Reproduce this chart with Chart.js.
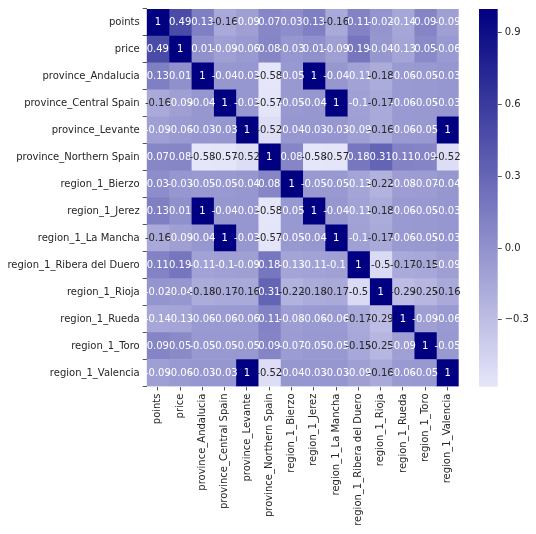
<!DOCTYPE html>
<html><head><meta charset="utf-8">
<script src="https://cdn.jsdelivr.net/npm/chart.js@4/dist/chart.umd.min.js"></script>
<style>
html,body{margin:0;padding:0;background:#fff;}
#main{position:absolute;left:0;top:0;}
#cbar{position:absolute;left:470px;top:0;}
</style></head><body>
<canvas id="main" width="536" height="534"></canvas>
<canvas id="cbar" width="66" height="534"></canvas>
<script>
const labels = ["points","price","province_Andalucia","province_Central Spain","province_Levante","province_Northern Spain","region_1_Bierzo","region_1_Jerez","region_1_La Mancha","region_1_Ribera del Duero","region_1_Rioja","region_1_Rueda","region_1_Toro","region_1_Valencia"];

const corrPoints    = [1, 0.49, 0.13, -0.16, -0.09, 0.07, 0.03, 0.13, -0.16, 0.11, -0.02, -0.14, 0.09, -0.09];
const corrPrice     = [0.49, 1, 0.01, -0.09, -0.06, 0.08, -0.03, 0.01, -0.09, 0.19, -0.04, -0.13, 0.05, -0.06];
const corrAndalucia = [0.13, 0.01, 1, -0.04, -0.03, -0.58, -0.05, 1, -0.04, -0.11, -0.18, -0.06, -0.05, -0.03];
const corrCentral   = [-0.16, -0.09, -0.04, 1, -0.03, -0.57, -0.05, -0.04, 1, -0.1, -0.17, -0.06, -0.05, -0.03];
const corrLevante   = [-0.09, -0.06, -0.03, -0.03, 1, -0.52, -0.04, -0.03, -0.03, -0.09, -0.16, -0.06, -0.05, 1];
const corrNorthern  = [0.07, 0.08, -0.58, -0.57, -0.52, 1, 0.08, -0.58, -0.57, 0.18, 0.31, 0.11, 0.09, -0.52];
const corrBierzo    = [0.03, -0.03, -0.05, -0.05, -0.04, 0.08, 1, -0.05, -0.05, -0.13, -0.22, -0.08, -0.07, -0.04];
const corrJerez     = [0.13, 0.01, 1, -0.04, -0.03, -0.58, -0.05, 1, -0.04, -0.11, -0.18, -0.06, -0.05, -0.03];
const corrLaMancha  = [-0.16, -0.09, -0.04, 1, -0.03, -0.57, -0.05, -0.04, 1, -0.1, -0.17, -0.06, -0.05, -0.03];
const corrRibera    = [0.11, 0.19, -0.11, -0.1, -0.09, 0.18, -0.13, -0.11, -0.1, 1, -0.5, -0.17, -0.15, -0.09];
const corrRioja     = [-0.02, -0.04, -0.18, -0.17, -0.16, 0.31, -0.22, -0.18, -0.17, -0.5, 1, -0.29, -0.25, -0.16];
const corrRueda     = [-0.14, -0.13, -0.06, -0.06, -0.06, 0.11, -0.08, -0.06, -0.06, -0.17, -0.29, 1, -0.09, -0.06];
const corrToro      = [0.09, 0.05, -0.05, -0.05, -0.05, 0.09, -0.07, -0.05, -0.05, -0.15, -0.25, -0.09, 1, -0.05];
const corrValencia  = [-0.09, -0.06, -0.03, -0.03, 1, -0.52, -0.04, -0.03, -0.03, -0.09, -0.16, -0.06, -0.05, 1];

const matrix = [corrPoints, corrPrice, corrAndalucia, corrCentral, corrLevante, corrNorthern, corrBierzo, corrJerez, corrLaMancha, corrRibera, corrRioja, corrRueda, corrToro, corrValencia];

const VMIN = -0.58, VMAX = 1;
const cbarTicks = [-0.3, 0.0, 0.3, 0.6, 0.9];

const FONT = {family: '"DejaVu Sans", sans-serif', size: 10};
const TXT = '#262626';

function rgbFor(v){
  const t = Math.max(0, Math.min(1, (v - VMIN) / (VMAX - VMIN)));
  const lo = [230, 230, 250], hi = [0, 0, 128];
  return lo.map((c, k) => Math.round(c + (hi[k] - c) * t));
}
function cellColor(v){ const c = rgbFor(v); return `rgb(${c[0]},${c[1]},${c[2]})`; }
function textColor(v){
  const c = rgbFor(v).map(x => { x /= 255; return x <= 0.03928 ? x / 12.92 : Math.pow((x + 0.055) / 1.055, 2.4); });
  const L = 0.2126 * c[0] + 0.7152 * c[1] + 0.0722 * c[2];
  return L > 0.408 ? TXT : '#ffffff';
}
function fmt(v){ return String(Number(v.toPrecision(2))); }

const datasets = labels.map((col, j) => ({
  label: col,
  data: labels.map(() => 1),
  backgroundColor: matrix.map(row => cellColor(row[j])),
  borderWidth: 0,
  barPercentage: 1,
  categoryPercentage: 1
}));

const annot = {
  id: 'annot',
  afterDatasetsDraw(chart){
    const ctx = chart.ctx, xs = chart.scales.x, ys = chart.scales.y;
    ctx.save();
    ctx.font = '10px "DejaVu Sans", sans-serif';
    ctx.textAlign = 'center';
    ctx.textBaseline = 'middle';
    matrix.forEach((row, i) => row.forEach((v, j) => {
      ctx.fillStyle = textColor(v);
      ctx.fillText(fmt(v), xs.getPixelForValue(j + 0.5), ys.getPixelForValue(i));
    }));
    ctx.restore();
  }
};

new Chart(document.getElementById('main'), {
  type: 'bar',
  data: {labels: labels, datasets: datasets},
  options: {
    responsive: false,
    animation: false,
    indexAxis: 'y',
    layout: {padding: {top: 6.7, right: 77.3, left: 0, bottom: 0}},
    plugins: {legend: {display: false}, tooltip: {enabled: false}},
    scales: {
      x: {
        type: 'linear', stacked: true, min: 0, max: 14, position: 'bottom',
        afterBuildTicks: s => { s.ticks = labels.map((_, i) => ({value: i + 0.5})); },
        afterFit: s => { s.height = 147.5; },
        ticks: {callback: (v, i) => labels[i], autoSkip: false, maxRotation: 90, minRotation: 90, font: FONT, color: TXT, padding: 3},
        grid: {drawOnChartArea: false, drawTicks: true, tickLength: 4, color: '#555'},
        border: {display: false}
      },
      y: {
        type: 'category', stacked: true,
        afterFit: s => { s.width = 146.7; },
        ticks: {font: FONT, color: TXT, padding: 3, autoSkip: false},
        grid: {drawOnChartArea: false, drawTicks: true, tickLength: 4, color: '#555'},
        border: {display: false}
      }
    }
  },
  plugins: [annot]
});

new Chart(document.getElementById('cbar'), {
  type: 'bar',
  data: {
    labels: ['cbar'],
    datasets: [{
      data: [[VMIN, VMAX]],
      barPercentage: 1, categoryPercentage: 1, borderWidth: 0,
      backgroundColor: c => {
        const ch = c.chart;
        if (!ch.chartArea) return cellColor(0);
        const y = ch.scales.y;
        const g = ch.ctx.createLinearGradient(0, y.getPixelForValue(VMAX), 0, y.getPixelForValue(VMIN));
        g.addColorStop(0, cellColor(VMAX));
        g.addColorStop(1, cellColor(VMIN));
        return g;
      }
    }]
  },
  options: {
    responsive: false,
    animation: false,
    layout: {padding: {top: 6.7, left: 9, right: 0, bottom: 147.3}},
    plugins: {legend: {display: false}, tooltip: {enabled: false}},
    scales: {
      x: {display: false},
      y: {
        type: 'linear', position: 'right', min: VMIN, max: VMAX,
        afterBuildTicks: s => { s.ticks = cbarTicks.map(v => ({value: v})); },
        afterFit: s => { s.width = 38.3; },
        ticks: {callback: v => v.toFixed(1).replace('-', '\u2212'), font: FONT, color: TXT, padding: 3},
        grid: {drawOnChartArea: false, drawTicks: true, tickLength: 4, color: '#555'},
        border: {display: false}
      }
    }
  }
});
</script>
</body></html>
